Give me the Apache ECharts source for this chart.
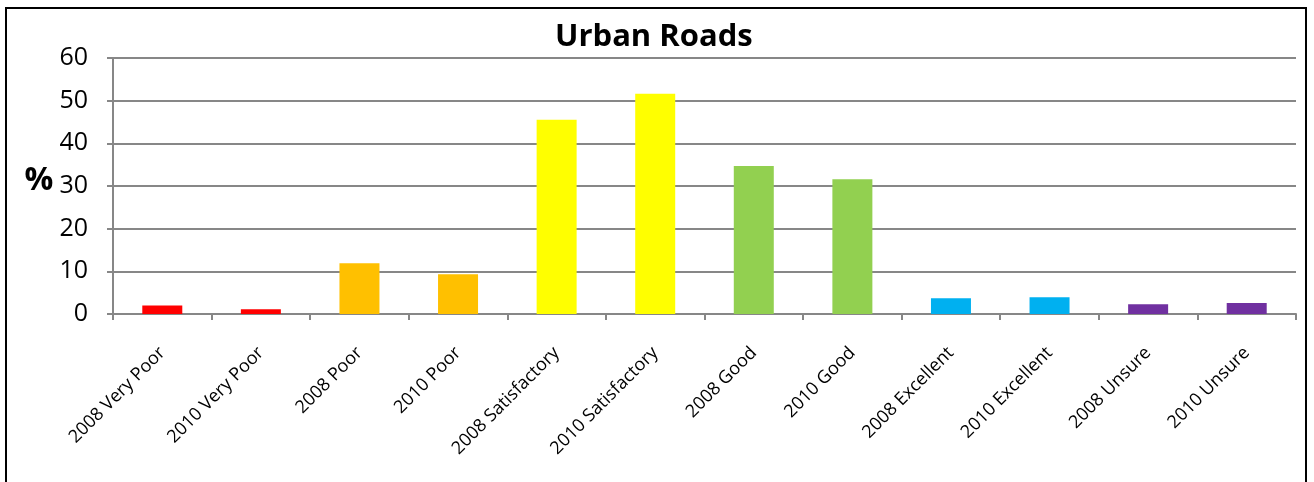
<!DOCTYPE html>
<html>
<head>
<meta charset="utf-8">
<script src="https://cdn.jsdelivr.net/npm/echarts@6/dist/echarts.min.js"></script>
<style>
  html, body { margin: 0; padding: 0; background: #fff; }
  #chart { width: 1314px; height: 482px; }
</style>
</head>
<body>
<div id="chart"></div>
<script>
const categories = [
  '2008 Very Poor', '2010 Very Poor', '2008 Poor', '2010 Poor',
  '2008 Satisfactory', '2010 Satisfactory', '2008 Good', '2010 Good',
  '2008 Excellent', '2010 Excellent', '2008 Unsure', '2010 Unsure'
];
const percents = [2.0, 1.1, 11.9, 9.3, 45.5, 51.6, 34.7, 31.6, 3.7, 3.9, 2.3, 2.6];
const barColors = [
  '#FF0000', '#FF0000', '#FFC000', '#FFC000', '#FFFF00', '#FFFF00',
  '#92D050', '#92D050', '#00B0F0', '#00B0F0', '#7030A0', '#7030A0'
];
const yTicks = [0, 10, 20, 30, 40, 50, 60];

const font = '"Open Sans", sans-serif';
const gray = '#878787';

const chart = echarts.init(document.getElementById('chart'));

chart.setOption({
  animation: false,
  title: {
    text: 'Urban Roads',
    left: 550,
    top: 17,
    textStyle: { fontFamily: font, fontSize: 31, fontWeight: 'bold', color: '#000' }
  },
  graphic: [
    {
      type: 'rect',
      shape: { x: 6, y: 8, width: 1300, height: 490 },
      style: { fill: 'none', stroke: '#000', lineWidth: 2 },
      silent: true
    },
    {
      type: 'text',
      x: 39, y: 181,
      style: {
        text: '%', fontFamily: font, fontSize: 32, fontWeight: 'bold',
        fill: '#000', align: 'center', verticalAlign: 'middle'
      }
    }
  ],
  grid: { left: 113, right: 18, top: 58, bottom: 168, containLabel: false },
  xAxis: {
    type: 'category',
    data: categories,
    axisLine: { lineStyle: { color: gray, width: 2 } },
    axisTick: { show: true, length: 6, lineStyle: { color: gray, width: 2 } },
    axisLabel: {
      rotate: 45,
      margin: 36,
      interval: 0,
      fontFamily: font,
      fontSize: 18,
      color: '#000'
    }
  },
  yAxis: {
    type: 'value',
    min: yTicks[0],
    max: yTicks[yTicks.length - 1],
    interval: 10,
    axisLine: { show: true, lineStyle: { color: gray, width: 2 } },
    axisTick: { show: true, length: 6, lineStyle: { color: gray, width: 2 } },
    splitLine: { lineStyle: { color: gray, width: 2 } },
    axisLabel: { margin: 25, fontFamily: font, fontSize: 25, color: '#000' }
  },
  series: [{
    type: 'bar',
    data: percents.map((v, i) => ({ value: v, itemStyle: { color: barColors[i] } })),
    barWidth: 40
  }]
});
</script>
</body>
</html>
